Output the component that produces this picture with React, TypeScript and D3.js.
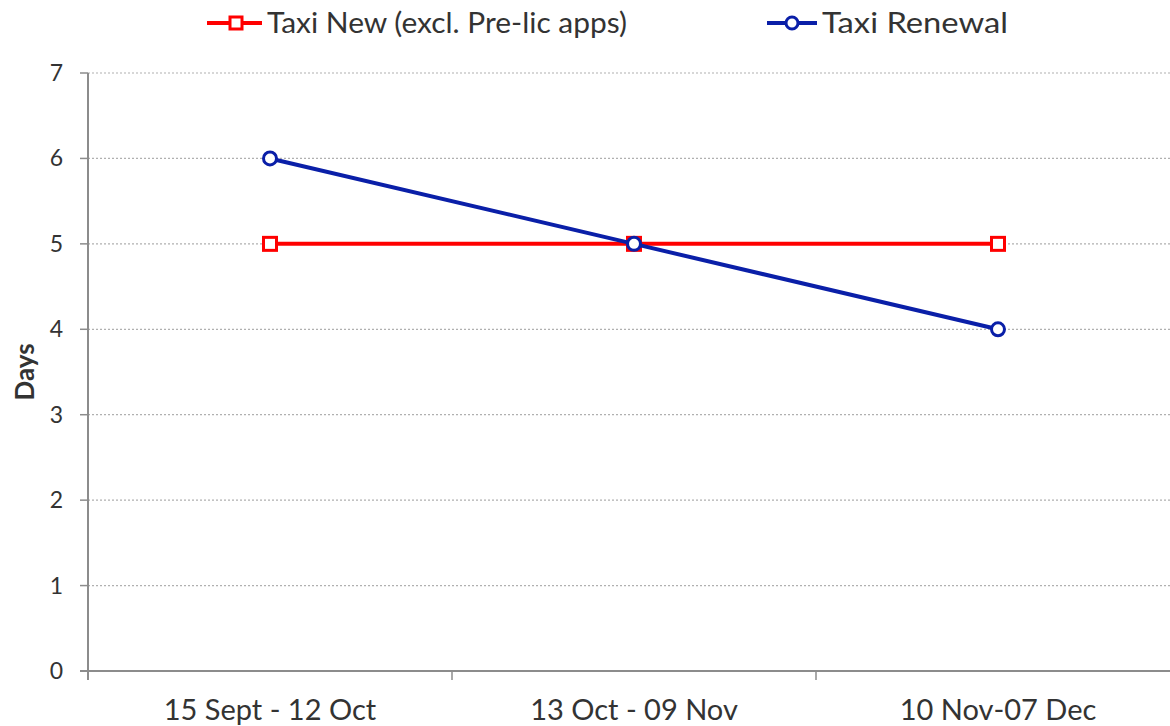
import React from "react";
import * as d3 from "d3";

const categories = ["15 Sept - 12 Oct", "13 Oct - 09 Nov", "10 Nov-07 Dec"];
const taxiNew = [5, 5, 5];
const taxiRenewal = [6, 5, 4];
const yTicks = [0, 1, 2, 3, 4, 5, 6, 7];

const W = 1170, H = 726;
const FONT = "Lato, 'Open Sans', sans-serif";

export default function App() {
  const x = d3.scaleBand<string>().domain(categories).range([88, 1180]);
  const y = d3.scaleLinear().domain([0, 7]).range([671, 73]);
  const cx = (c: string) => (x(c) as number) + x.bandwidth() / 2;
  const line = d3.line<[number, number]>().x(d => d[0]).y(d => d[1]);
  const ptsNew: [number, number][] = categories.map((c, i) => [cx(c), y(taxiNew[i])]);
  const ptsRen: [number, number][] = categories.map((c, i) => [cx(c), y(taxiRenewal[i])]);
  const red = "#ff0000", blue = "#0a1fa8", axisC = "#8c8c8c", txt = "#333";

  return (
    <svg width={W} height={H} style={{ position: "absolute", left: 0, top: 0 }} fontFamily={FONT}>
      <rect width={W} height={H} fill="#fff" />
      {yTicks.filter(t => t > 0).map(t => (
        <line key={"g" + t} x1={88} x2={W} y1={y(t)} y2={y(t)} stroke="#b0b0b0" strokeWidth={1.2} strokeDasharray="2,2" />
      ))}
      {yTicks.map(t => (
        <g key={"t" + t}>
          <line x1={80} x2={88} y1={y(t)} y2={y(t)} stroke={axisC} strokeWidth={1.5} />
          <text x={63} y={y(t)} dy="0.35em" textAnchor="end" fontSize={23} fill={txt}>{t}</text>
        </g>
      ))}
      <line x1={88} x2={88} y1={y(7)} y2={680} stroke={axisC} strokeWidth={2} />
      <line x1={80} x2={W} y1={y(0)} y2={y(0)} stroke={axisC} strokeWidth={2} />
      {categories.map(c => (
        <line key={"ct" + c} x1={x(c) as number} x2={x(c) as number} y1={671} y2={680} stroke={axisC} strokeWidth={1.5} />
      ))}
      {categories.map(c => (
        <text key={"cl" + c} x={cx(c)} y={720} textAnchor="middle" fontSize={29} fill={txt}>{c}</text>
      ))}
      <text transform={`translate(34,${y(3.5)}) rotate(-90)`} textAnchor="middle" fontSize={26} fontWeight="bold" fill={txt}>Days</text>

      <path d={line(ptsNew) || ""} fill="none" stroke={red} strokeWidth={4} />
      {ptsNew.map((p, i) => (
        <rect key={"n" + i} x={p[0] - 6.5} y={p[1] - 6.5} width={13} height={13} fill="#fff" stroke={red} strokeWidth={3} />
      ))}
      <path d={line(ptsRen) || ""} fill="none" stroke={blue} strokeWidth={4} />
      {ptsRen.map((p, i) => (
        <circle key={"r" + i} cx={p[0]} cy={p[1]} r={6.5} fill="#fff" stroke={blue} strokeWidth={3} />
      ))}

      <g>
        <line x1={207} x2={262} y1={23} y2={23} stroke={red} strokeWidth={4} />
        <rect x={230} y={17} width={12} height={12} fill="#fff" stroke={red} strokeWidth={3} />
        <text x={267} y={23} dy="0.35em" fontSize={29} textLength={360} lengthAdjust="spacingAndGlyphs" fill={txt}>Taxi New (excl. Pre-lic apps)</text>
        <line x1={767} x2={817} y1={23} y2={23} stroke={blue} strokeWidth={4} />
        <circle cx={792} cy={23} r={6} fill="#fff" stroke={blue} strokeWidth={3} />
        <text x={822} y={23} dy="0.35em" fontSize={29} textLength={186} lengthAdjust="spacingAndGlyphs" fill={txt}>Taxi Renewal</text>
      </g>
    </svg>
  );
}
